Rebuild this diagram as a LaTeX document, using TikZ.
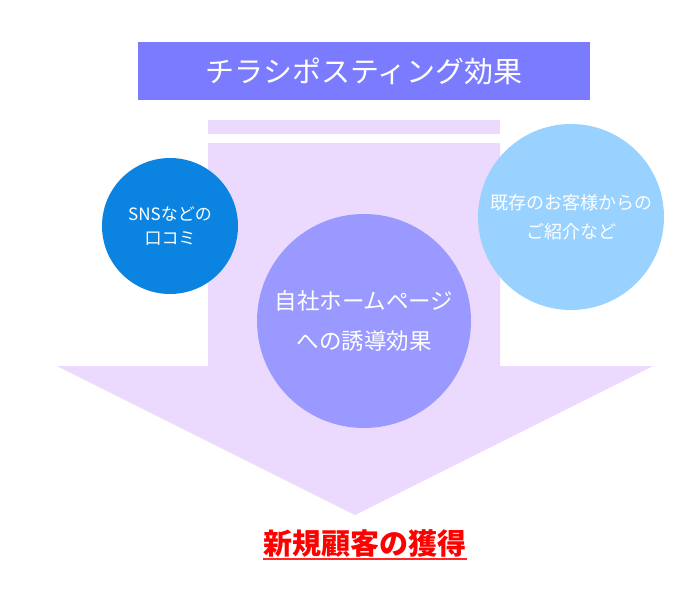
\documentclass[tikz,border=0pt]{standalone}
\usepackage{fontspec}
\setmainfont{Noto Sans CJK JP}
\usetikzlibrary{positioning}

\definecolor{titleblue}{RGB}{123,123,255}
\definecolor{arrowlilac}{RGB}{235,218,253}
\definecolor{snsblue}{RGB}{10,132,224}
\definecolor{homeviolet}{RGB}{153,153,255}
\definecolor{referralsky}{RGB}{153,210,255}
\definecolor{goalred}{RGB}{255,0,0}

\begin{document}
\begin{tikzpicture}[
    x=1pt, y=-1pt,
    titlebar/.style={fill=titleblue, text=white, minimum width=452pt, minimum height=58pt, inner sep=0pt, font=\fontsize{29}{34}\selectfont},
    bubble/.style={circle, text=white, align=center, inner sep=0pt},
    goaltext/.style={text=goalred, inner sep=0pt, font=\fontsize{29}{34}\selectfont\bfseries}
]
    \useasboundingbox (0,0) rectangle (680,600);

    % big arrow
    \fill[arrowlilac] (208,120) rectangle (500,134);
    \fill[arrowlilac] (208,143) -- (500,143) -- (500,366) -- (653,366) -- (355,515) -- (57,366) -- (208,366) -- cycle;

    \node[titlebar] (title) at (364,71) {チラシポスティング効果};

    \node[bubble, fill=snsblue, minimum size=136pt, font=\fontsize{17}{24}\selectfont] (sns) at (170,226) {SNSなどの\\口コミ};
    \node[bubble, fill=homeviolet, minimum size=214pt, font=\fontsize{22.5}{40}\selectfont] (homepage) at (364,321) {自社ホームページ\\への誘導効果};
    \node[bubble, fill=referralsky, minimum size=186pt, font=\fontsize{18}{29}\selectfont] (referral) at (571,217) {既存のお客様からの\\ご紹介など};

    \node[goaltext] (goal) at (365,543) {新規顧客の獲得};
    \draw[goalred!85!white, line width=2pt] ([yshift=-2pt]goal.south west) -- ([yshift=-2pt]goal.south east);

\end{tikzpicture}
\end{document}
